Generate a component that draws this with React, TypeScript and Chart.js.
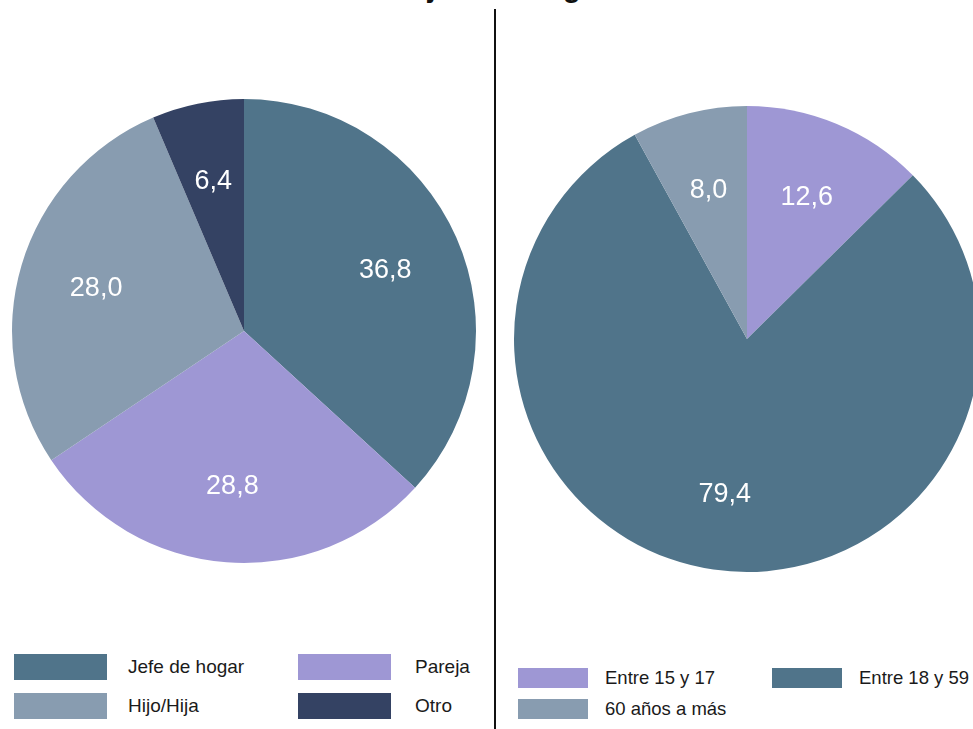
import React, { useEffect, useRef } from "react";
import { Chart, registerables } from "chart.js";

Chart.register(...registerables);

const titleText = "con jefe de hogar";

const leftLabels = ["Jefe de hogar", "Pareja", "Hijo/Hija", "Otro"];
const leftValues = [36.8, 28.8, 28.0, 6.4];
const leftColors = ["#50748A", "#9E97D4", "#889CB0", "#344263"];

const rightLabels = ["Entre 15 y 17", "Entre 18 y 59", "60 años a más"];
const rightValues = [12.6, 79.4, 8.0];
const rightColors = ["#9E97D4", "#50748A", "#889CB0"];

const FONT = '"Liberation Sans", Arial, sans-serif';

const fmt = (v: number) => v.toFixed(1).replace(".", ",");

const sliceLabels = {
  id: "sliceLabels",
  afterDatasetsDraw(chart: any) {
    const ctx = chart.ctx;
    const meta = chart.getDatasetMeta(0);
    const data = chart.data.datasets[0].data as number[];
    ctx.save();
    ctx.font = `27px ${FONT}`;
    ctx.fillStyle = "#ffffff";
    ctx.textAlign = "center";
    ctx.textBaseline = "middle";
    meta.data.forEach((arc: any, i: number) => {
      const p = arc.getProps(["x", "y", "startAngle", "endAngle", "outerRadius"], true);
      const mid = (p.startAngle + p.endAngle) / 2;
      const r = p.outerRadius * 0.665;
      ctx.fillText(fmt(data[i]), p.x + Math.cos(mid) * r, p.y + Math.sin(mid) * r + 2);
    });
    ctx.restore();
  },
};

function PieCanvas(props: {
  labels: string[];
  values: number[];
  colors: string[];
  padding: { left: number; right: number; top: number; bottom: number };
  style: React.CSSProperties;
  width: number;
  height: number;
}) {
  const ref = useRef<HTMLCanvasElement | null>(null);
  useEffect(() => {
    if (!ref.current) return;
    const chart = new Chart(ref.current, {
      type: "pie",
      data: {
        labels: props.labels,
        datasets: [
          {
            data: props.values,
            backgroundColor: props.colors,
            borderWidth: 0,
          },
        ],
      },
      options: {
        animation: false,
        responsive: false,
        maintainAspectRatio: false,
        layout: { padding: props.padding },
        plugins: {
          legend: { display: false },
          title: { display: false },
          tooltip: { enabled: false },
        },
      },
      plugins: [sliceLabels],
    });
    return () => chart.destroy();
  }, []);
  return (
    <canvas
      ref={ref}
      width={props.width}
      height={props.height}
      style={{ position: "absolute", width: props.width, height: props.height, ...props.style }}
    />
  );
}

function Legend(props: {
  labels: string[];
  colors: string[];
  boxLefts: number[];
  textLefts: number[];
  rowTops: number[];
  boxW: number;
  boxH: number;
  fontSize: number;
}) {
  return (
    <>
      {props.labels.map((lab, i) => {
        const col = i % 2;
        const row = Math.floor(i / 2);
        const top = props.rowTops[row];
        return (
          <React.Fragment key={lab}>
            <div
              style={{
                position: "absolute",
                left: props.boxLefts[col],
                top,
                width: props.boxW,
                height: props.boxH,
                background: props.colors[i],
              }}
            />
            <div
              style={{
                position: "absolute",
                left: props.textLefts[col],
                top,
                height: props.boxH,
                lineHeight: props.boxH + "px",
                fontFamily: FONT,
                fontSize: props.fontSize,
                color: "#1a1a1a",
                whiteSpace: "nowrap",
              }}
            >
              {lab}
            </div>
          </React.Fragment>
        );
      })}
    </>
  );
}

export default function App() {
  return (
    <div
      style={{
        position: "fixed",
        left: 0,
        top: 0,
        width: 973,
        height: 729,
        overflow: "hidden",
        background: "#ffffff",
      }}
    >
      <div
        style={{
          position: "absolute",
          left: 368,
          top: -27,
          fontFamily: FONT,
          fontWeight: "bold",
          fontSize: 29,
          lineHeight: "29px",
          color: "#111",
          whiteSpace: "nowrap",
        }}
      >
        {titleText}
      </div>
      <div
        style={{
          position: "absolute",
          left: 494,
          top: 9,
          width: 2,
          height: 720,
          background: "#111",
        }}
      />
      <PieCanvas
        labels={leftLabels}
        values={leftValues}
        colors={leftColors}
        width={490}
        height={640}
        padding={{ left: 12, right: 14, top: 99, bottom: 77 }}
        style={{ left: 0, top: 0 }}
      />
      <PieCanvas
        labels={rightLabels}
        values={rightValues}
        colors={rightColors}
        width={480}
        height={640}
        padding={{ left: 4, right: 10, top: 106, bottom: 68 }}
        style={{ left: 510, top: 0 }}
      />
      <Legend
        labels={leftLabels}
        colors={leftColors}
        boxLefts={[14, 298]}
        textLefts={[128, 415]}
        rowTops={[654, 693]}
        boxW={93}
        boxH={26}
        fontSize={19}
      />
      <Legend
        labels={rightLabels}
        colors={rightColors}
        boxLefts={[518, 772]}
        textLefts={[605, 859]}
        rowTops={[668, 699]}
        boxW={70}
        boxH={20}
        fontSize={18.5}
      />
    </div>
  );
}
